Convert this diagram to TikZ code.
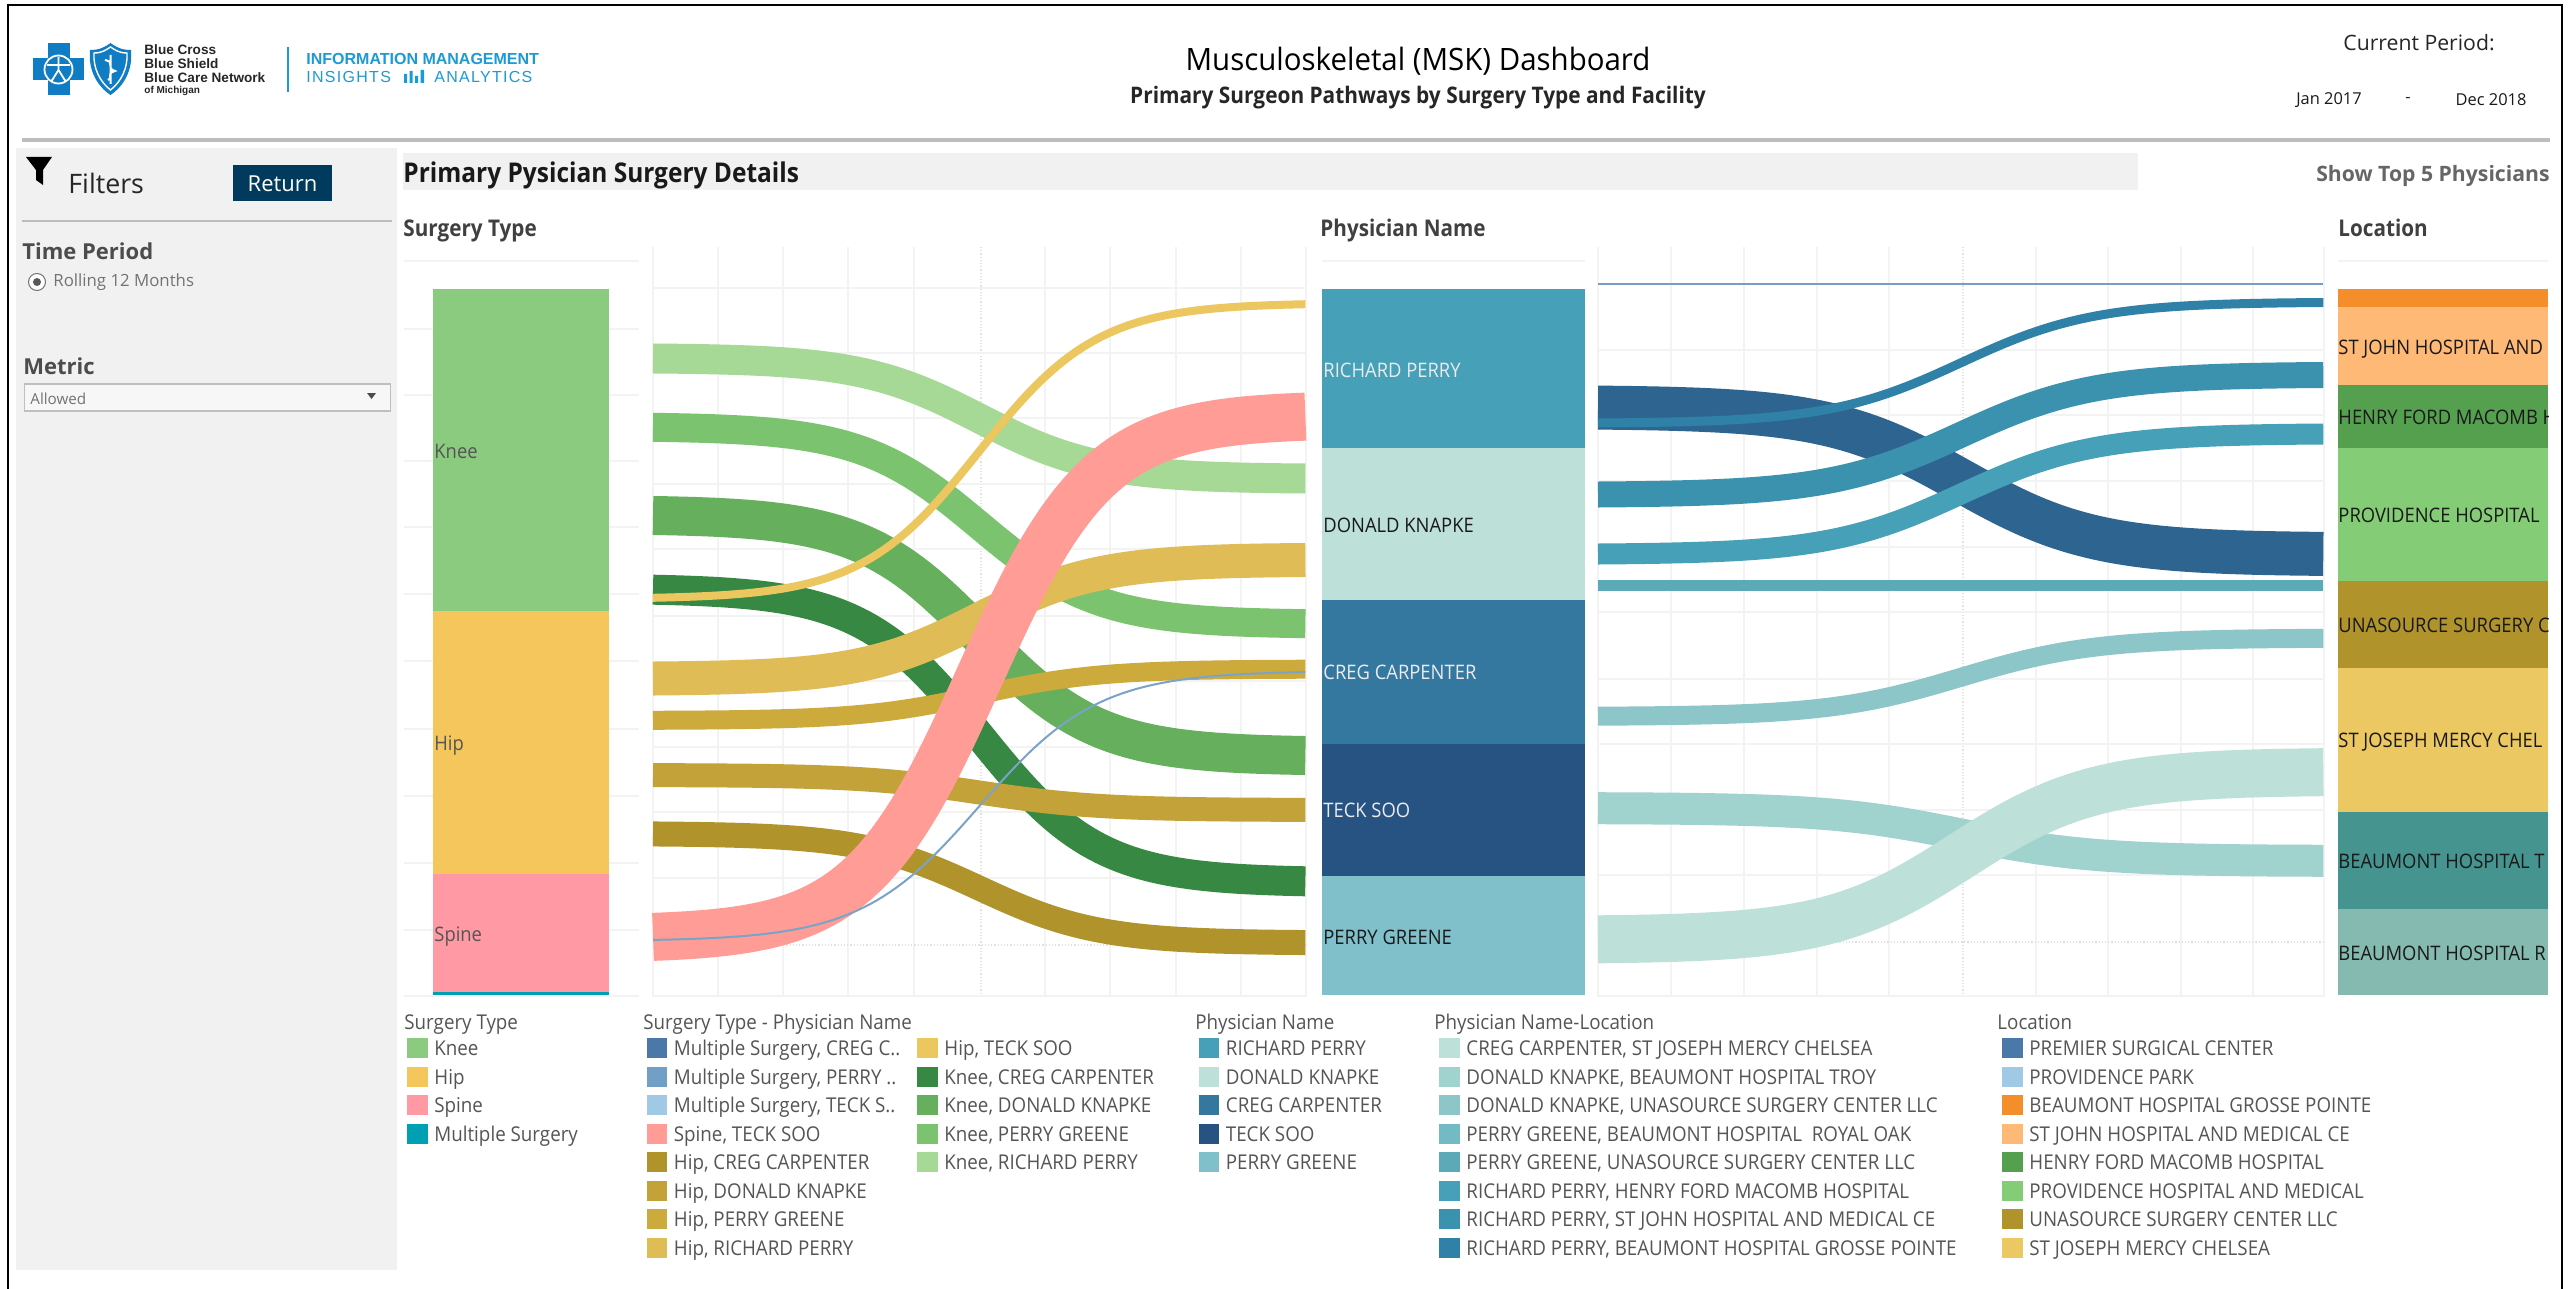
\documentclass[tikz,border=0pt]{standalone}
\usepackage{fontspec}
\setmainfont{Open Sans}
\newfontfamily\hvfont{Liberation Sans}
\newfontfamily\legf[FakeStretch=0.92]{Open Sans}
\newfontfamily\hdf[FakeStretch=0.90]{Open Sans}
\newfontfamily\subf[FakeStretch=0.915]{Open Sans}
\newfontfamily\titf[FakeStretch=0.956]{Open Sans}
\definecolor{panelgray}{HTML}{F1F1F1}
\definecolor{ruleg}{HTML}{BDBDBD}
\definecolor{gridg}{HTML}{F3F3F3}
\definecolor{legtxt}{HTML}{555555}
\definecolor{bluelogo}{HTML}{0F7CC4}
\definecolor{bluetxt}{HTML}{1C9AD6}
\newcommand{\dc}[1]{\definecolor{HTML#1}{HTML}{#1}}
\dc{003A5D}\dc{8ACB7F}\dc{F5C65C}\dc{FF99A3}\dc{00A0B4}\dc{46A0B8}\dc{BDE0D8}\dc{3478A0}\dc{265382}\dc{7FC0CA}
\dc{F48E2B}\dc{FFB977}\dc{55A04F}\dc{85CC76}\dc{B0942B}\dc{EBC862}\dc{459490}\dc{85BAB0}\dc{A5D995}\dc{7CC370}
\dc{66AF5C}\dc{378842}\dc{ECC75F}\dc{DFBC55}\dc{CDAA3C}\dc{C2A239}\dc{FF9C96}\dc{7AA3C8}\dc{7A9CC4}\dc{2E6590}
\dc{2F81A8}\dc{3A92AF}\dc{5CA9B8}\dc{8CC6C8}\dc{A0D2CE}\dc{4A78A8}\dc{729FC6}\dc{A0C9E6}\dc{72BAC4}
\tikzset{
  legtitle/.style={anchor=west,inner sep=0pt,font=\legf\fontsize{10.2}{12}\selectfont,text=legtxt,text height=9.3pt,text depth=2pt},
  legitem/.style={anchor=west,inner sep=0pt,font=\legf\fontsize{10.2}{12}\selectfont,text=legtxt,text height=9.3pt,text depth=2pt},
  heading/.style={anchor=west,inner sep=0pt,font=\hdf\fontsize{11.5}{13}\selectfont\bfseries,text=black!75,text height=10.2pt,text depth=2pt},
  barlabel/.style={anchor=west,inner sep=0pt,font=\legf\fontsize{10}{12}\selectfont,text height=9.1pt,text depth=2pt},
  lablight/.style={barlabel,text=white!92!black},
  labdark/.style={barlabel,text=black!90},
  labgray/.style={barlabel,text=legtxt},
  gridline/.style={draw=gridg,line width=0.7pt},
  griddot/.style={draw=black!12,line width=0.6pt,densely dotted}
}
% a flow is a stroked sigmoid: constant perpendicular width, as in the reference
\newcommand{\flowband}[7]{%
  \draw[#7,line width={(#4-#3)*0.5pt},line join=round] plot[domain=0:1,samples=97]
    ({#1+\x*(#2-#1)},{(#3+#4)/2+((#5+#6)-(#3+#4))/2/(1+exp(-11*(\x-0.5)))});%
}
\newcommand{\legrow}[5]{%
  \fill[#4] (#1,#2-10) rectangle ++(20.5,20);%
  \node[legitem] (#3) at (#1+27,#2+0.5) {#5};%
}
\begin{document}
\begin{tikzpicture}[x=0.5pt,y=-0.5pt]
\useasboundingbox (0,0) rectangle (2575,1289);
\fill[white] (0,0) rectangle (2575,1289);
% frame
\draw[black,line width=1.3pt] (8,1289) -- (8,5) -- (2562,5) -- (2562,1289);
\fill[ruleg] (22,138.5) rectangle (2550,142);
% left panel
\fill[panelgray] (16,148) rectangle (397,1270);
\fill[panelgray] (403,153) rectangle (2138,190);
% logo: cross
\fill[bluelogo] (47.5,43) rectangle (69.5,95);
\fill[bluelogo] (33,58) rectangle (83.5,80);
\draw[white,line width=0.9pt] (58.5,69.5) circle (14);
\draw[white,line width=0.9pt] (58.5,57) -- (58.5,70) (47,65) -- (70,65) (58.5,70) -- (51,82) (58.5,70) -- (66,82);
% logo: shield
\fill[bluelogo] (90,50) .. controls (100,50) and (105,47) .. (110.5,43) .. controls (116,47) and (121,50) .. (131,50)
  .. controls (133,70) and (124,86) .. (110.5,95) .. controls (97,86) and (88,70) .. (90,50) -- cycle;
\draw[white,line width=0.7pt] (94,53) .. controls (102,53) and (106,50) .. (110.5,47) .. controls (115,50) and (119,53) .. (127,53)
  .. controls (128,68) and (121,82) .. (110.5,90) .. controls (100,82) and (93,68) .. (94,53) -- cycle;
\draw[white,line width=1pt] (110.5,55) -- (110.5,84) (105,60) .. controls (116,62) and (105,68) .. (115,71) .. controls (105,74) and (114,78) .. (108,80);
% logo text
\node[anchor=west,inner sep=0pt,font=\hvfont\bfseries\fontsize{6.8}{7}\selectfont,text=black!85] (lg1) at (144,50) {Blue Cross};
\node[anchor=west,inner sep=0pt,font=\hvfont\bfseries\fontsize{6.8}{7}\selectfont,text=black!85] (lg2) at (144,64) {Blue Shield};
\node[anchor=west,inner sep=0pt,font=\hvfont\bfseries\fontsize{6.8}{7}\selectfont,text=black!85] (lg3) at (144,78) {Blue Care Network};
\node[anchor=west,inner sep=0pt,font=\hvfont\bfseries\fontsize{5}{6}\selectfont,text=black!85] (lg4) at (144,91) {of Michigan};
\draw[bluetxt,line width=0.8pt] (288,47) -- (288,92);
\node[anchor=west,inner sep=0pt,font=\hvfont\bfseries\fontsize{8}{10}\selectfont,text=bluetxt] (im) at (306,59) {INFORMATION MANAGEMENT};
\node[anchor=west,inner sep=0pt,font=\hvfont\fontsize{8}{10}\selectfont\addfontfeature{LetterSpace=8},text=bluetxt] (ia1) at (306,77) {INSIGHTS};
\fill[bluetxt] (404,74) rectangle (407,83) (409.5,71) rectangle (412.5,83) (415,76) rectangle (418,83) (420.5,70) rectangle (424,83);
\node[anchor=west,inner sep=0pt,font=\hvfont\fontsize{8}{10}\selectfont\addfontfeature{LetterSpace=8},text=bluetxt] (ia2) at (434,77) {ANALYTICS};
% header texts
\node[inner sep=0pt,font=\titf\fontsize{15.4}{18}\selectfont,text=black,text height=13pt,text depth=2pt] (title) at (1418,60) {Musculoskeletal (MSK) Dashboard};
\node[inner sep=0pt,font=\subf\fontsize{11.4}{14}\selectfont\bfseries,text=black!85,text height=10.1pt,text depth=2pt] (subtitle) at (1418,95) {Primary Surgeon Pathways by Surgery Type and Facility};
\node[inner sep=0pt,font=\fontsize{10.6}{13}\selectfont,text=black!85,text height=9.6pt,text depth=2pt] (cp) at (2419,43) {Current Period:};
\node[inner sep=0pt,font=\fontsize{8.2}{10}\selectfont,text=black!90] (jan) at (2329,100) {Jan 2017};
\node[inner sep=0pt,font=\fontsize{8.2}{10}\selectfont,text=black!85] (dash) at (2408,100) {-};
\node[inner sep=0pt,font=\fontsize{8.2}{10}\selectfont,text=black!90] (dec) at (2491,100) {Dec 2018};
\node[anchor=east,inner sep=0pt,font=\fontsize{10.6}{13}\selectfont\bfseries,text=black!60,text height=9.6pt,text depth=2pt] (top5) at (2550,174) {Show Top 5 Physicians};
\node[anchor=west,inner sep=0pt,font=\hdf\fontsize{13.6}{16}\selectfont\bfseries,text=black!90,text height=11.7pt,text depth=2pt] (details) at (403,173) {Primary Pysician Surgery Details};
\node[heading] (h1) at (403,228) {Surgery Type};
\node[heading] (h2) at (1320,228) {Physician Name};
\node[heading] (h3) at (2338,228) {Location};
% filters
\fill[black] (26,157) -- (52,157) -- (43,170) -- (43,185) -- (36,180) -- (36,170) -- cycle;
\node[anchor=west,inner sep=0pt,font=\fontsize{13.4}{16}\selectfont,text=black!85] (filters) at (68,183) {Filters};
\node[fill=HTML003A5D,minimum width=49.5pt,minimum height=18pt,inner sep=0pt,text=white,font=\fontsize{11}{13}\selectfont,text height=9.8pt,text depth=1.2pt] (ret) at (282.5,183) {Return};
\fill[ruleg] (22,220) rectangle (392,222);
\node[anchor=west,inner sep=0pt,font=\fontsize{11}{13}\selectfont\bfseries,text=black!70] (tp) at (22,251) {Time Period};
\draw[black!55,line width=0.5pt,fill=white] (37,282) circle (8.5);
\fill[black!65] (37,282) circle (4);
\node[anchor=west,inner sep=0pt,font=\fontsize{8.4}{10}\selectfont,text=black!55] (roll) at (53,282) {Rolling 12 Months};
\node[anchor=west,inner sep=0pt,font=\fontsize{11}{13}\selectfont\bfseries,text=black!70] (met) at (23,366) {Metric};
\node[anchor=west,draw=black!25,line width=0.6pt,fill=black!3,minimum width=183pt,minimum height=13.5pt,inner sep=0pt] (dd) at (24,397.5) {};
\node[anchor=west,inner sep=0pt,font=\fontsize{7.6}{9}\selectfont,text=black!55] (allow) at (30,398.5) {Allowed};
\fill[black!70] (367,393) -- (376,393) -- (371.5,399) -- cycle;
% grids
\foreach \y in {261,329,395,461,527,594,661,729,796,863,930,996}{\draw[gridline] (404,\y) -- (639,\y);}
\foreach \x in {653,718,783,848,914,1045,1110,1176,1241,1306}{\draw[gridline] (\x,247) -- (\x,997);}
\draw[griddot] (981,247) -- (981,997);
\foreach \y in {288,353,418,484,549,616,681,747,812,878,996}{\draw[gridline] (653,\y) -- (1306,\y);}
\draw[griddot] (780,945) -- (1306,945);
\draw[gridline] (1322,261) -- (1585,261);
\foreach \x in {1598,1671,1744,1817,1889,2036,2108,2181,2253,2324}{\draw[gridline] (\x,247) -- (\x,997);}
\draw[griddot] (1963,247) -- (1963,997);
\foreach \y in {350,415,481,547,612,679,744,810,875,996}{\draw[gridline] (1598,\y) -- (2324,\y);}
\draw[griddot] (1817,942) -- (2324,942);
\draw[gridline] (2338,261) -- (2548,261);
% bars 1
\fill[HTML8ACB7F] (433,289) rectangle (609,611);
\fill[HTMLF5C65C] (433,611) rectangle (609,874);
\fill[HTMLFF99A3] (433,874) rectangle (609,992);
\fill[HTML00A0B4] (433,992) rectangle (609,995);
\node[labgray] (bk) at (434,451) {Knee};
\node[labgray] (bh) at (434,743) {Hip};
\node[labgray] (bs) at (434,934) {Spine};
% bars 2
\fill[HTML46A0B8] (1322,289) rectangle (1585,448);
\fill[HTMLBDE0D8] (1322,448) rectangle (1585,600);
\fill[HTML3478A0] (1322,600) rectangle (1585,744);
\fill[HTML265382] (1322,744) rectangle (1585,876);
\fill[HTML7FC0CA] (1322,876) rectangle (1585,995);
\node[lablight] (p1) at (1323,370) {RICHARD PERRY};
\node[labdark] (p2) at (1323,525) {DONALD KNAPKE};
\node[lablight] (p3) at (1323,672) {CREG CARPENTER};
\node[lablight] (p4) at (1323,810) {TECK SOO};
\node[labdark] (p5) at (1323,937) {PERRY GREENE};
% bars 3
\fill[HTMLF48E2B] (2338,289) rectangle (2548,307);
\fill[HTMLFFB977] (2338,307) rectangle (2548,385);
\fill[HTML55A04F] (2338,385) rectangle (2548,448);
\fill[HTML85CC76] (2338,448) rectangle (2548,581);
\fill[HTMLB0942B] (2338,581) rectangle (2548,668);
\fill[HTMLEBC862] (2338,668) rectangle (2548,812);
\fill[HTML459490] (2338,812) rectangle (2548,909);
\fill[HTML85BAB0] (2338,909) rectangle (2548,995);
\begin{scope}
\clip (2338,289) rectangle (2548,995);
\node[labdark] (l1) at (2338,347) {ST JOHN HOSPITAL AND};
\node[labdark] (l2) at (2338,417) {HENRY FORD MACOMB H};
\node[labdark] (l3) at (2338,515) {PROVIDENCE HOSPITAL};
\node[labdark] (l4) at (2338,625) {UNASOURCE SURGERY C};
\node[labdark] (l5) at (2338,740) {ST JOSEPH MERCY CHEL};
\node[labdark] (l6) at (2338,861) {BEAUMONT HOSPITAL T};
\node[labdark] (l7) at (2338,953) {BEAUMONT HOSPITAL R};
\end{scope}
% flows 1
\flowband{653}{1306}{343}{373}{464}{494}{HTMLA5D995}
\flowband{653}{1306}{412}{441}{609}{640}{HTML7CC370}
\flowband{653}{1306}{495}{534}{737}{776}{HTML66AF5C}
\flowband{653}{1306}{573.5}{603.5}{866}{899}{HTML378842}
\flowband{653}{1306}{595}{603}{299}{307}{HTMLECC75F}
\flowband{653}{1306}{662}{696}{542}{577}{HTMLDFBC55}
\flowband{653}{1306}{711}{730}{659}{679}{HTMLCDAA3C}
\flowband{653}{1306}{763}{787}{798}{822}{HTMLC2A239}
\flowband{653}{1306}{821}{846}{930}{956}{HTMLB0942B}
\flowband{653}{1306}{915}{963}{390}{439}{HTMLFF9C96}
\flowband{653}{1306}{940}{942}{670}{672}{HTML7AA3C8}
% flows 2
\flowband{1598}{2324}{283}{285}{283}{285}{HTML7A9CC4}
\flowband{1598}{2324}{385}{429}{533}{576}{HTML2E6590}
\flowband{1598}{2324}{419}{428}{298}{306}{HTML2F81A8}
\flowband{1598}{2324}{482}{508}{362}{387}{HTML3A92AF}
\flowband{1598}{2324}{544}{565}{423}{444}{HTML46A0B8}
\flowband{1598}{2324}{580}{591}{580}{591}{HTML5CA9B8}
\flowband{1598}{2324}{707}{726}{629}{647}{HTML8CC6C8}
\flowband{1598}{2324}{792}{824}{845}{877}{HTMLA0D2CE}
\flowband{1598}{2324}{916}{964}{748}{795}{HTMLBDE0D8}
% legends
\node[legtitle] (lt1) at (404,1022) {Surgery Type};
\node[legtitle] (lt2) at (643,1022) {Surgery Type - Physician Name};
\node[legtitle] (lt3) at (1195,1022) {Physician Name};
\node[legtitle] (lt4) at (1434,1022) {Physician Name-Location};
\node[legtitle] (lt5) at (1997,1022) {Location};
\legrow{407}{1048}{a1}{HTML8ACB7F}{Knee}
\legrow{407}{1076.5}{a2}{HTMLF5C65C}{Hip}
\legrow{407}{1105}{a3}{HTMLFF99A3}{Spine}
\legrow{407}{1133.5}{a4}{HTML00A0B4}{Multiple Surgery}
\legrow{646.5}{1048}{b1}{HTML4A78A8}{Multiple Surgery, CREG C..}
\legrow{646.5}{1076.5}{b2}{HTML729FC6}{Multiple Surgery, PERRY ..}
\legrow{646.5}{1105}{b3}{HTMLA0C9E6}{Multiple Surgery, TECK S..}
\legrow{646.5}{1133.5}{b4}{HTMLFF9C96}{Spine, TECK SOO}
\legrow{646.5}{1162}{b5}{HTMLB0942B}{Hip, CREG CARPENTER}
\legrow{646.5}{1190.5}{b6}{HTMLC2A239}{Hip, DONALD KNAPKE}
\legrow{646.5}{1219}{b7}{HTMLCDAA3C}{Hip, PERRY GREENE}
\legrow{646.5}{1247.5}{b8}{HTMLDFBC55}{Hip, RICHARD PERRY}
\legrow{917}{1048}{c1}{HTMLECC75F}{Hip, TECK SOO}
\legrow{917}{1076.5}{c2}{HTML378842}{Knee, CREG CARPENTER}
\legrow{917}{1105}{c3}{HTML66AF5C}{Knee, DONALD KNAPKE}
\legrow{917}{1133.5}{c4}{HTML7CC370}{Knee, PERRY GREENE}
\legrow{917}{1162}{c5}{HTMLA5D995}{Knee, RICHARD PERRY}
\legrow{1198.5}{1048}{d1}{HTML46A0B8}{RICHARD PERRY}
\legrow{1198.5}{1076.5}{d2}{HTMLBDE0D8}{DONALD KNAPKE}
\legrow{1198.5}{1105}{d3}{HTML3478A0}{CREG CARPENTER}
\legrow{1198.5}{1133.5}{d4}{HTML265382}{TECK SOO}
\legrow{1198.5}{1162}{d5}{HTML7FC0CA}{PERRY GREENE}
\legrow{1439}{1048}{e1}{HTMLBDE0D8}{CREG CARPENTER, ST JOSEPH MERCY CHELSEA}
\legrow{1439}{1076.5}{e2}{HTMLA0D2CE}{DONALD KNAPKE, BEAUMONT HOSPITAL TROY}
\legrow{1439}{1105}{e3}{HTML8CC6C8}{DONALD KNAPKE, UNASOURCE SURGERY CENTER LLC}
\legrow{1439}{1133.5}{e4}{HTML72BAC4}{PERRY GREENE, BEAUMONT HOSPITAL\ \ ROYAL OAK}
\legrow{1439}{1162}{e5}{HTML5CA9B8}{PERRY GREENE, UNASOURCE SURGERY CENTER LLC}
\legrow{1439}{1190.5}{e6}{HTML46A0B8}{RICHARD PERRY, HENRY FORD MACOMB HOSPITAL}
\legrow{1439}{1219}{e7}{HTML3A92AF}{RICHARD PERRY, ST JOHN HOSPITAL AND MEDICAL CE}
\legrow{1439}{1247.5}{e8}{HTML2F81A8}{RICHARD PERRY, BEAUMONT HOSPITAL GROSSE POINTE}
\legrow{2002}{1048}{f1}{HTML4A78A8}{PREMIER SURGICAL CENTER}
\legrow{2002}{1076.5}{f2}{HTMLA0C9E6}{PROVIDENCE PARK}
\legrow{2002}{1105}{f3}{HTMLF48E2B}{BEAUMONT HOSPITAL GROSSE POINTE}
\legrow{2002}{1133.5}{f4}{HTMLFFB977}{ST JOHN HOSPITAL AND MEDICAL CE}
\legrow{2002}{1162}{f5}{HTML55A04F}{HENRY FORD MACOMB HOSPITAL}
\legrow{2002}{1190.5}{f6}{HTML85CC76}{PROVIDENCE HOSPITAL AND MEDICAL}
\legrow{2002}{1219}{f7}{HTMLB0942B}{UNASOURCE SURGERY CENTER LLC}
\legrow{2002}{1247.5}{f8}{HTMLEBC862}{ST JOSEPH MERCY CHELSEA}
\end{tikzpicture}
\end{document}
